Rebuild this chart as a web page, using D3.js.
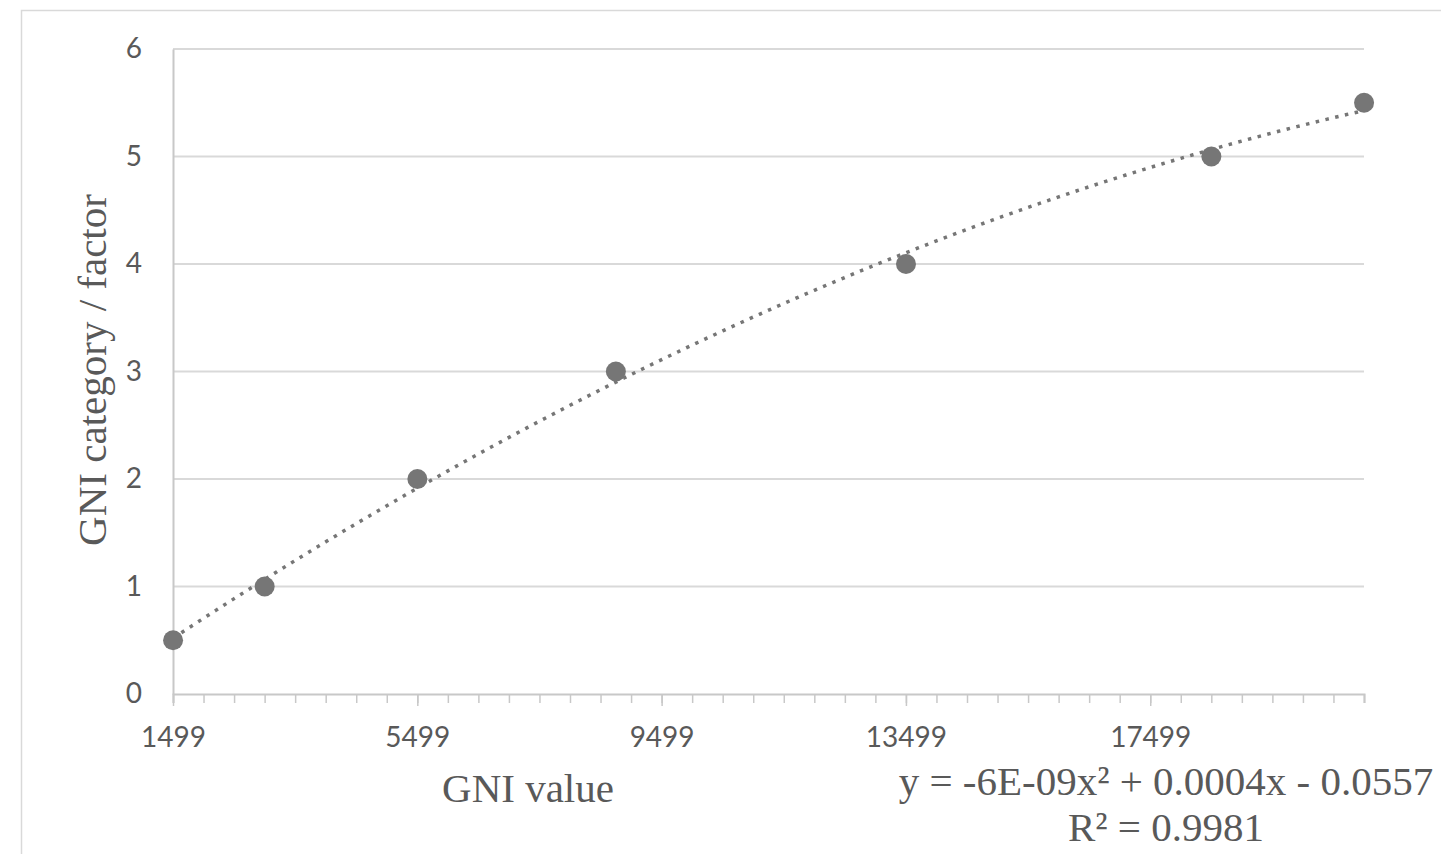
<!doctype html>
<html lang="en">
  <head>
    <meta charset="UTF-8" />
    <title>GNI category vs GNI value</title>
    <script src="https://d3js.org/d3.v7.min.js"></script>
    <style>
      body {
        margin: 0;
        padding: 0;
        background: #ffffff;
      }
      .tick text {
        font-family: 'Lato', sans-serif;
        font-size: 28px;
        fill: #595959;
      }
      .axis-title,
      .trend-label {
        font-family: 'Liberation Serif', 'Times New Roman', serif;
        font-size: 41px;
        fill: #595959;
      }
    </style>
  </head>
  <body>
    <div id="chart"></div>
    <script>
      // Data
      const gniValues = [1500, 3000, 5500, 8750, 13500, 18500, 21000]
      const gniFactors = [0.5, 1, 2, 3, 4, 5, 5.5]
      const xMajorTicks = [1499, 5499, 9499, 13499, 17499]
      const yTicks = [0, 1, 2, 3, 4, 5, 6]
      const trendText = ['y = -6E-09x² + 0.0004x - 0.0557', 'R² = 0.9981']

      const W = 1441
      const H = 854
      const margin = { top: 49, right: 77, bottom: 160, left: 173 }
      const width = W - margin.left - margin.right
      const height = H - margin.top - margin.bottom

      const svg = d3.select('#chart').append('svg').attr('width', W).attr('height', H)

      // outer chart border (cut off at right and bottom)
      svg
        .append('rect')
        .attr('x', 21.5)
        .attr('y', 10.5)
        .attr('width', W + 20)
        .attr('height', H + 20)
        .attr('fill', 'none')
        .attr('stroke', '#d9d9d9')
        .attr('stroke-width', 1.5)

      const g = svg.append('g').attr('transform', `translate(${margin.left},${margin.top})`)

      const x = d3.scaleLinear().domain([1499, 20999]).range([0, width])
      const y = d3.scaleLinear().domain([0, 6]).range([height, 0])

      // horizontal gridlines
      g.selectAll('.grid')
        .data(yTicks.filter((d) => d > 0))
        .enter()
        .append('line')
        .attr('x1', 0)
        .attr('x2', width)
        .attr('y1', (d) => y(d))
        .attr('y2', (d) => y(d))
        .attr('stroke', '#d9d9d9')
        .attr('stroke-width', 2)

      // y axis
      g.append('g')
        .call(d3.axisLeft(y).tickValues(yTicks).tickSize(0).tickPadding(31).tickFormat(d3.format('d')))
        .call((s) => s.select('.domain').attr('stroke', '#c8c8c8').attr('stroke-width', 2))

      // minor x ticks
      g.append('g')
        .attr('transform', `translate(0,${height})`)
        .call(
          d3
            .axisBottom(x)
            .tickValues(d3.range(1499, 21000, 500))
            .tickSize(9)
            .tickFormat('')
        )
        .call((s) => s.select('.domain').attr('stroke', '#c8c8c8').attr('stroke-width', 2))
        .call((s) => s.selectAll('.tick line').attr('stroke', '#c8c8c8').attr('stroke-width', 1.5))

      // major x ticks with labels
      g.append('g')
        .attr('transform', `translate(0,${height})`)
        .call(d3.axisBottom(x).tickValues(xMajorTicks).tickSize(12).tickPadding(21).tickFormat((d) => d))
        .call((s) => s.select('.domain').remove())
        .call((s) => s.selectAll('.tick line').attr('stroke', '#c8c8c8').attr('stroke-width', 1.5))

      // quadratic least-squares trendline
      const pts = gniValues.map((v, i) => [v, gniFactors[i]])
      function polyFit(data) {
        const S = [0, 0, 0, 0, 0]
        const T = [0, 0, 0]
        data.forEach(([px, py]) => {
          for (let k = 0; k < 5; k++) S[k] += Math.pow(px, k)
          for (let k = 0; k < 3; k++) T[k] += py * Math.pow(px, k)
        })
        const A = [
          [S[0], S[1], S[2], T[0]],
          [S[1], S[2], S[3], T[1]],
          [S[2], S[3], S[4], T[2]],
        ]
        for (let c = 0; c < 3; c++) {
          for (let r = c + 1; r < 3; r++) {
            const f = A[r][c] / A[c][c]
            for (let k = c; k < 4; k++) A[r][k] -= f * A[c][k]
          }
        }
        const b = [0, 0, 0]
        for (let r = 2; r >= 0; r--) {
          let s = A[r][3]
          for (let k = r + 1; k < 3; k++) s -= A[r][k] * b[k]
          b[r] = s / A[r][r]
        }
        return (v) => b[0] + b[1] * v + b[2] * v * v
      }
      const fit = polyFit(pts)
      const xs = d3.range(gniValues[0], gniValues[gniValues.length - 1] + 1, 100)

      g.append('path')
        .datum(xs)
        .attr('fill', 'none')
        .attr('stroke', '#767676')
        .attr('stroke-width', 3.5)
        .attr('stroke-dasharray', '3.5,6.5')
        .attr(
          'd',
          d3
            .line()
            .x((d) => x(d))
            .y((d) => y(fit(d)))
        )

      // points
      g.selectAll('.pt')
        .data(pts)
        .enter()
        .append('circle')
        .attr('cx', (d) => x(d[0]))
        .attr('cy', (d) => y(d[1]))
        .attr('r', 10)
        .attr('fill', '#767676')

      // axis titles
      svg
        .append('text')
        .attr('class', 'axis-title')
        .attr('x', 528)
        .attr('y', 802)
        .attr('text-anchor', 'middle')
        .text('GNI value')

      svg
        .append('text')
        .attr('class', 'axis-title')
        .attr('transform', 'translate(106,370) rotate(-90)')
        .attr('text-anchor', 'middle')
        .text('GNI category / factor')

      // trendline equation
      svg
        .selectAll('.trend-label')
        .data(trendText)
        .enter()
        .append('text')
        .attr('class', 'trend-label')
        .attr('x', 1166)
        .attr('y', (d, i) => 795 + i * 46)
        .attr('text-anchor', 'middle')
        .text((d) => d)
    </script>
  </body>
</html>
